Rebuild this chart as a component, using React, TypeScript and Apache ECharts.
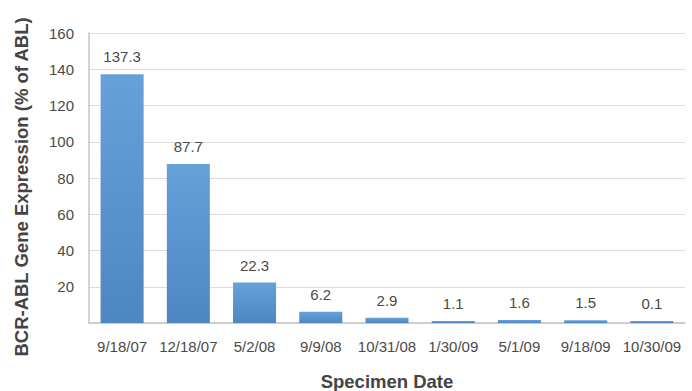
import React, { useEffect, useRef } from "react";
import * as echarts from "echarts";

const categories = ["9/18/07", "12/18/07", "5/2/08", "9/9/08", "10/31/08", "1/30/09", "5/1/09", "9/18/09", "10/30/09"];
const values = [137.3, 87.7, 22.3, 6.2, 2.9, 1.1, 1.6, 1.5, 0.1];
const yAxisTitle = "BCR-ABL Gene Expression (% of ABL)";
const xAxisTitle = "Specimen Date";

const FONT = "'Liberation Sans', Arial, Helvetica, sans-serif";

export default function App() {
  const ref = useRef<HTMLDivElement>(null);
  useEffect(() => {
    document.body.style.margin = "0";
    if (!ref.current) return;
    const chart = echarts.init(ref.current, null, { renderer: "svg" });
    chart.setOption({
      animation: false,
      backgroundColor: "#ffffff",
      grid: { left: 89, right: 7, top: 33, bottom: 68, containLabel: false, outerBoundsMode: "none" },
      xAxis: {
        type: "category",
        data: categories,
        name: xAxisTitle,
        nameLocation: "middle",
        nameGap: 49,
        nameTextStyle: { fontFamily: FONT, fontSize: 18.5, fontWeight: "bold", color: "#444", verticalAlign: "top" },
        axisTick: { show: false },
        axisLine: { show: true, lineStyle: { color: "#c4c4c4", width: 1.5 } },
        axisLabel: { fontFamily: FONT, fontSize: 15, color: "#4a4a4a", margin: 16, interval: 0 },
      },
      yAxis: {
        type: "value",
        min: 0,
        max: 160,
        interval: 20,
        name: yAxisTitle,
        nameLocation: "middle",
        nameGap: 58,
        nameRotate: 90,
        nameTextStyle: {
          fontFamily: FONT,
          fontSize: 18.5,
          fontWeight: "bold",
          color: "#444",
          padding: [0, 18, 0, 0],
        },
        axisTick: { show: false },
        axisLine: { show: true, lineStyle: { color: "#c4c4c4", width: 1.5 } },
        axisLabel: {
          fontFamily: FONT,
          fontSize: 15,
          color: "#4a4a4a",
          margin: 15,
          formatter: (v: number) => (v === 0 ? "" : String(v)),
        },
        splitLine: { show: true, lineStyle: { color: "#dcdcdc", width: 1 } },
      },
      series: [
        {
          type: "bar",
          data: values,
          barWidth: "65%",
          barMinHeight: 2,
          itemStyle: {
            color: new echarts.graphic.LinearGradient(0, 0, 0, 1, [
              { offset: 0, color: "#66a1d9" },
              { offset: 1, color: "#4e86c3" },
            ]),
          },
          label: {
            show: true,
            position: "top",
            distance: 10,
            fontFamily: FONT,
            fontSize: 15,
            color: "#4a4a4a",
            formatter: (p: any) => String(p.value),
          },
        },
      ],
    });
    return () => chart.dispose();
  }, []);
  return <div ref={ref} style={{ position: "fixed", left: 0, top: 0, width: 692, height: 391 }} />;
}
